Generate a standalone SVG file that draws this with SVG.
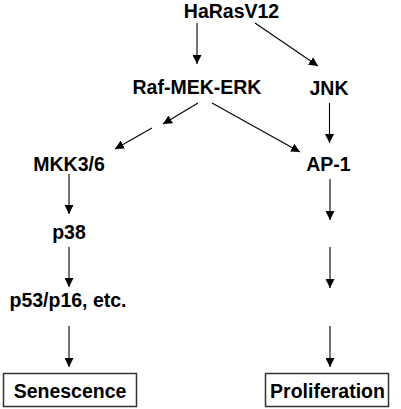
<svg xmlns="http://www.w3.org/2000/svg" width="401" height="409" viewBox="0 0 401 409">
<defs>
<marker id="ah" viewBox="0 0 10 10" refX="10" refY="5" markerWidth="9" markerHeight="9" markerUnits="userSpaceOnUse" orient="auto">
<path d="M0,0 L10,5 L0,10 Z" fill="#000"/>
</marker>
<style>
text{font-family:"Liberation Sans",Arial,Helvetica,sans-serif;font-weight:bold;font-size:19.5px;fill:#000;text-anchor:middle}
.c line{stroke:#000;stroke-width:1.1;marker-end:url(#ah)}
.box{fill:#fff;stroke:#333;stroke-width:1.5}
</style>
</defs>
<rect width="401" height="409" fill="#fff"/>
<g class="c" id="connectors">
<line x1="197" y1="23" x2="197" y2="64"/>
<line x1="255" y1="23" x2="318" y2="66"/>
<line x1="329.5" y1="103" x2="329.5" y2="143"/>
<line x1="212" y1="103" x2="300" y2="152"/>
<line x1="198" y1="103" x2="163" y2="124"/>
<line x1="152" y1="128" x2="115" y2="149"/>
<line x1="69" y1="174" x2="69" y2="214"/>
<line x1="69" y1="247" x2="69" y2="287"/>
<line x1="69" y1="326" x2="69" y2="367"/>
<line x1="330" y1="179" x2="330" y2="220"/>
<line x1="330" y1="247" x2="330" y2="288"/>
<line x1="330" y1="326" x2="330" y2="367"/>
</g>
<g id="n-harasv12"><text x="231.5" y="18">HaRasV12</text></g>
<g id="n-raf"><text x="197" y="94">Raf-MEK-ERK</text></g>
<g id="n-jnk"><text x="329" y="95">JNK</text></g>
<g id="n-mkk"><text x="69" y="171">MKK3/6</text></g>
<g id="n-ap1"><text x="328.5" y="171">AP-1</text></g>
<g id="n-p38"><text x="69" y="239">p38</text></g>
<g id="n-p53"><text x="68" y="307">p53/p16, etc.</text></g>
<g id="n-senescence"><rect class="box" x="3.5" y="373.5" width="133" height="33"/><text x="70" y="398">Senescence</text></g>
<g id="n-proliferation"><rect class="box" x="265.5" y="373.5" width="123" height="33"/><text x="327.5" y="398">Proliferation</text></g>
</svg>
